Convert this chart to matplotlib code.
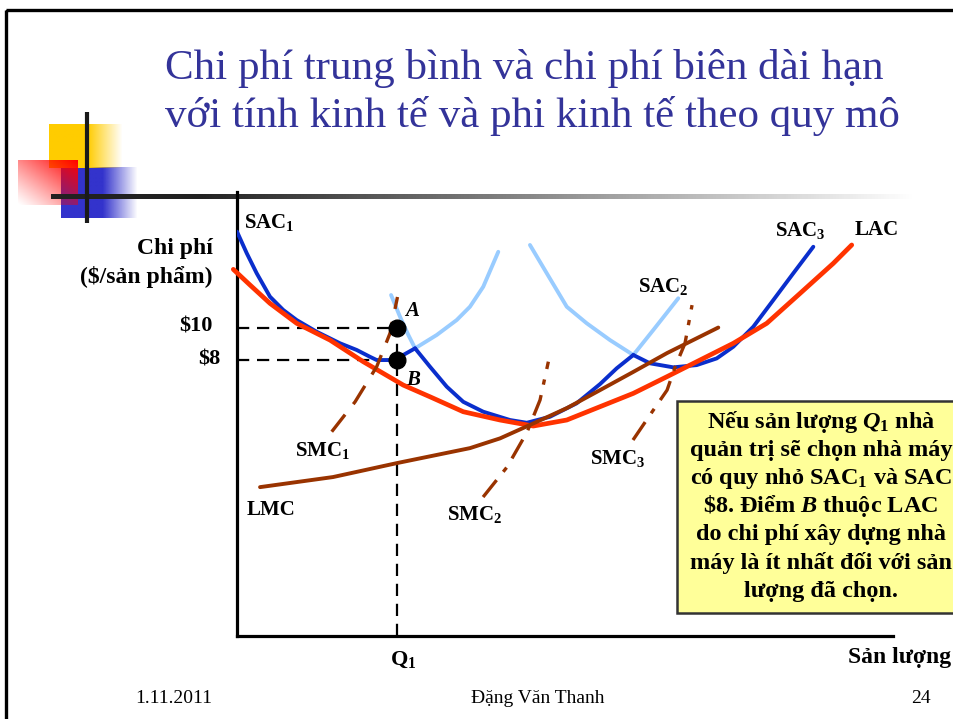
import numpy as np
import matplotlib
matplotlib.use("Agg")
import matplotlib.pyplot as plt
from matplotlib.patches import Rectangle

plt.rcParams['font.family'] = ['Liberation Serif', 'DejaVu Serif']
plt.rcParams['mathtext.fontset'] = 'custom'
plt.rcParams['mathtext.rm'] = 'Liberation Serif:bold'
plt.rcParams['mathtext.it'] = 'Liberation Serif:bold:italic'
plt.rcParams['mathtext.bf'] = 'Liberation Serif:bold'

# ---------------- data (quantity Q, cost $ per unit) ----------------
sac1_q = [0.0, 0.61, 1.23, 2.06, 2.89, 3.73, 4.98, 6.44, 7.48, 8.31, 8.73, 9.77, 10.39,
          11.13, 12.48, 13.73, 14.56, 15.39, 16.33]
sac1_c = [15.90, 14.57, 13.34, 11.90, 11.08, 10.46, 9.74, 9.03, 8.62, 8.20, 8.0, 8.0, 8.31,
          8.72, 9.54, 10.46, 11.28, 12.51, 14.66]

sac2_q = [9.63, 10.19, 10.71, 11.13, 12.06, 13.11, 14.14, 15.39, 17.06, 18.11, 19.56,
          21.23, 22.69, 23.73, 24.77, 26.02, 27.58]
sac2_c = [12.0, 10.66, 9.54, 8.72, 7.59, 6.36, 5.43, 4.82, 4.31, 4.14, 4.51,
          5.34, 6.52, 7.49, 8.31, 9.85, 11.80]

sac3_q = [18.31, 19.36, 20.61, 21.86, 23.31, 24.77, 25.81, 27.27, 28.73, 29.98, 31.02,
          32.27, 33.52, 34.77, 36.02]
sac3_c = [15.08, 13.34, 11.28, 10.26, 9.23, 8.31, 7.80, 7.55, 7.69, 8.10, 8.82,
          10.05, 11.69, 13.34, 14.97]

# quantities where the lower envelope of the SAC curves switches plant
switch_12 = 11.13
switch_23 = 24.77

lac_q = [-0.23, 0.81, 2.06, 3.73, 5.81, 7.89, 9.14, 10.39, 12.06, 14.14, 16.44, 18.52,
         20.61, 22.69, 24.77, 26.86, 28.94, 31.02, 33.11, 35.19, 37.27, 38.42]
lac_c = [13.58, 12.62, 11.49, 10.26, 9.23, 7.90, 7.18, 6.46, 5.74, 4.82, 4.31, 3.94,
         4.31, 5.13, 5.95, 6.97, 8.0, 9.03, 10.26, 12.10, 13.95, 15.08]

lmc_q = [1.44, 6.0, 10.0, 14.56, 16.44, 18.52, 20.63, 22.69, 24.75, 26.88, 30.08]
lmc_c = [0.18, 0.80, 1.66, 2.58, 3.18, 4.10, 5.05, 6.15, 7.26, 8.43, 10.0]

smc1_q = [5.92, 7.38, 8.73, 9.56, 10.03]
smc1_c = [3.59, 5.43, 7.59, 9.64, 11.88]

smc2_q = [15.38, 16.88, 18.13, 18.94, 19.46]
smc2_c = [-0.43, 1.42, 3.57, 5.54, 7.90]

smc3_q = [24.75, 26.02, 26.88, 27.38, 28.0, 28.44]
smc3_c = [3.08, 4.92, 6.15, 7.57, 9.03, 11.38]

Q1 = 10.0
price_A = 10.0
price_B = 8.0
ytick_vals = [10, 8]
ytick_labels = ['$10', '$8']

title_lines = ['Chi phí trung bình và chi phí biên dài hạn',
               'với tính kinh tế và phi kinh tế theo quy mô']
box_lines = ['Nếu sản lượng $Q_{\\mathit{1}}$ nhà',
             'quản trị sẽ chọn nhà máy',
             'có quy nhỏ SAC$_1$ và SAC',
             '\\$8. Điểm $B$ thuộc LAC',
             'do chi phí xây dựng nhà',
             'máy là ít nhất đối với sản',
             'lượng đã chọn.']
footer = ['1.11.2011', 'Đặng Văn Thanh', '24']

# ---------------- colours ----------------
DARK_BLUE = '#0A2ECC'
LIGHT_BLUE = '#99CCFF'
RED = '#FF3300'
BROWN = '#993300'
TITLE = '#333399'

W, H = 954, 719
fig = plt.figure(figsize=(W / 100, H / 100), dpi=100)
fig.patch.set_facecolor('white')

# background / slide layer in pixel coordinates
bg = fig.add_axes([0, 0, 1, 1], zorder=0)
bg.axis('off')


def grad(x0, x1, y0, y1, rgb, alpha, z):
    img = np.zeros(alpha.shape + (4,))
    img[..., 0], img[..., 1], img[..., 2] = rgb
    img[..., 3] = alpha
    bg.imshow(img, extent=(x0, x1, y1, y0), origin='upper', aspect='auto',
              interpolation='bilinear', zorder=z)


# blue square
xs = np.linspace(61, 138, 78)
a = np.clip((138 - xs) / (138 - 103), 0, 1)
grad(61, 138, 167, 218, (0.2, 0.2, 0.8), np.tile(a, (52, 1)), 1)
# yellow square
xs = np.linspace(49, 123, 75)
a = np.clip((123 - xs) / (123 - 88), 0, 1)
grad(49, 123, 124, 168, (1.0, 0.8, 0.0), np.tile(a, (45, 1)), 2)
# red square (diagonal fade)
xx, yy = np.meshgrid(np.linspace(0, 1, 61), np.linspace(0, 1, 46))
a = np.clip(0.5 * (xx + (1 - yy)), 0, 1) ** 1.1
grad(18, 78, 160, 205, (1.0, 0.0, 0.0), a, 3)
# horizontal fading rule
xs = np.linspace(51, 915, 865)
a = np.clip((915 - xs) / (915 - 200), 0, 1)
grad(51, 915, 195, 199.5, (0.13, 0.13, 0.13), np.tile(a, (5, 1)), 4)
# vertical black rule
bg.plot([87, 87], [112, 223], color='#1a1a1a', lw=3, solid_capstyle='butt', zorder=5)
# slide frame
bg.add_patch(Rectangle((6.5, 9.5), 1200, 1200, fill=False, ec='black', lw=2.4, zorder=6))

# title
for i, line in enumerate(title_lines):
    bg.text(165, 79 + 48 * i, line, fontsize=31, color=TITLE, ha='left', va='baseline',
            zorder=7)

# footer
bg.text(174, 703, footer[0], fontsize=14, ha='center', va='baseline')
bg.text(538, 703, footer[1], fontsize=14, ha='center', va='baseline')
bg.text(921, 703, footer[2], fontsize=14, ha='center', va='baseline')

# axis titles
bold = dict(fontweight='bold', va='baseline')
bg.text(213, 254, 'Chi phí', fontsize=17, ha='right', **bold)
bg.text(213, 283, '($/sản phẩm)', fontsize=17, ha='right', **bold)
bg.text(951, 663, 'Sản lượng', fontsize=17, ha='right', **bold)

# curve labels
lab = dict(fontsize=15, fontweight='bold', ha='left', va='baseline')
bg.text(244, 228, 'SAC$_1$', **lab)
bg.text(638, 292, 'SAC$_2$', **lab)
bg.text(775, 236, 'SAC$_3$', **lab)
bg.text(855, 235, 'LAC', **lab)
bg.text(247, 515, 'LMC', **lab)
bg.text(295, 456, 'SMC$_1$', **lab)
bg.text(447, 520, 'SMC$_2$', **lab)
bg.text(590, 464, 'SMC$_3$', **lab)

# explanation box
bg.add_patch(Rectangle((677, 400.5), 320, 212, fc='#FFFF99', ec='#333333', lw=1.8, zorder=8))
for i, line in enumerate(box_lines):
    bg.text(821, 428 + 28.1 * i, line, fontsize=17.5, fontweight='bold', ha='center',
            va='baseline', zorder=9)

bg.set_xlim(0, W)
bg.set_ylim(H, 0)

# ---------------- main chart ----------------
ax = fig.add_axes([237 / W, (H - 636) / H, (893 - 237) / W, (636 - 192) / H], zorder=1)
ax.patch.set_alpha(0)
ax.set_xlim(0, 41)
ax.set_ylim(-8.98, 18.34)
for s in ['top', 'right']:
    ax.spines[s].set_visible(False)
for s in ['left', 'bottom']:
    ax.spines[s].set_linewidth(2.3)
    ax.spines[s].set_color('black')
ax.set_xticks([])
ax.set_yticks([])

ymin = ax.get_ylim()[0]

# dashed guides
guide = dict(color='black', lw=1.6, dashes=(5.5, 3.5), zorder=2)
ax.plot([0, Q1], [price_A, price_A], **guide)
ax.plot([0, Q1], [price_B, price_B], **guide)
ax.plot([Q1, Q1], [ymin, price_A], **guide)

sq1, sc1 = np.array(sac1_q), np.array(sac1_c)
sq2, sc2 = np.array(sac2_q), np.array(sac2_c)
sq3, sc3 = np.array(sac3_q), np.array(sac3_c)

lb = dict(color=LIGHT_BLUE, lw=2.8, solid_capstyle='round', solid_joinstyle='round', zorder=3)
db = dict(color=DARK_BLUE, lw=2.8, solid_capstyle='round', solid_joinstyle='round', zorder=4)
# light (non-envelope) parts
ax.plot(sq1[sq1 >= switch_12], sc1[sq1 >= switch_12], **lb)
ax.plot(sq2[sq2 <= switch_12], sc2[sq2 <= switch_12], **lb)
ax.plot(sq2[sq2 >= switch_23], sc2[sq2 >= switch_23], **lb)
ax.plot(sq3[sq3 <= switch_23], sc3[sq3 <= switch_23], **lb)
# dark envelope parts
ax.plot(sq1[sq1 <= switch_12], sc1[sq1 <= switch_12], **db)
m2 = (sq2 >= switch_12) & (sq2 <= switch_23)
ax.plot(sq2[m2], sc2[m2], **db)
ax.plot(sq3[sq3 >= switch_23], sc3[sq3 >= switch_23], **db)

ax.plot(lac_q, lac_c, color=RED, lw=3.4, solid_capstyle='round', solid_joinstyle='round',
        zorder=5, clip_on=False)
ax.plot(lmc_q, lmc_c, color=BROWN, lw=2.8, solid_capstyle='round', solid_joinstyle='round',
        zorder=6)
ax.plot(smc1_q, smc1_c, color=BROWN, lw=2.4, dashes=(6.5, 4.0), zorder=6)
ax.plot(smc2_q, smc2_c, color=BROWN, lw=2.4, dashes=(6.5, 3.2, 1.6, 3.2), zorder=6)
ax.plot(smc3_q, smc3_c, color=BROWN, lw=2.4, dashes=(6.5, 3.2, 1.6, 3.2), zorder=6)

# points A and B
ax.plot([Q1, Q1], [price_A, price_B], 'o', color='black', ms=12, zorder=7)
ax.annotate('A', xy=(Q1, price_A), xytext=(8, 12), textcoords='offset pixels',
            fontsize=15, fontweight='bold', fontstyle='italic', ha='left', va='baseline')
ax.annotate('B', xy=(Q1, price_B), xytext=(9, -25), textcoords='offset pixels',
            fontsize=15, fontweight='bold', fontstyle='italic', ha='left', va='baseline')

# price labels on the cost axis
for v, t in zip(ytick_vals, ytick_labels):
    dx = -24 if v == 10 else -17
    ax.annotate(t, xy=(0, v), xytext=(dx, -4), textcoords='offset pixels',
                fontsize=16, fontweight='bold', ha='right', va='baseline',
                annotation_clip=False)
# quantity label
ax.annotate('Q$_1$', xy=(Q1, ymin), xytext=(6, -29), textcoords='offset pixels',
            fontsize=16, fontweight='bold', ha='center', va='baseline',
            annotation_clip=False)

fig.savefig('out.png', dpi=100)
